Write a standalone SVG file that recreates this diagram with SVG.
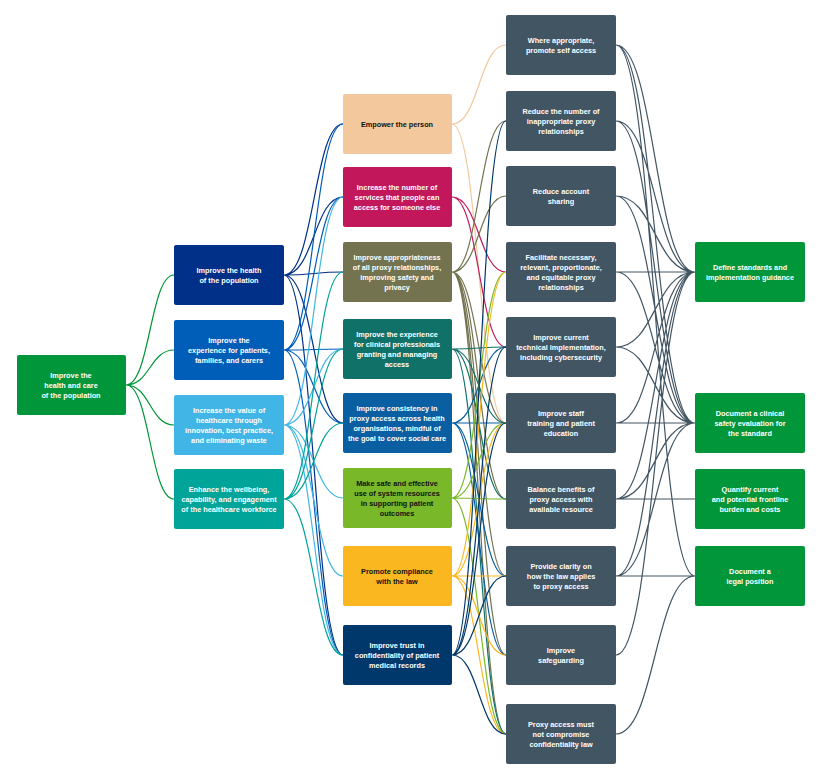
<svg xmlns="http://www.w3.org/2000/svg" width="831" height="772" viewBox="0 0 831 772">
<style>
text{font-family:"Liberation Sans",Arial,sans-serif;font-weight:bold;font-size:7.3px;fill:#fff;text-anchor:middle}
.dk{fill:#111}
rect{rx:2}
path{fill:none;stroke-width:1.2}
.g{stroke:#009639}.s{stroke:#425563}
.c1{stroke:#003087}.c2{stroke:#005eb8}.c3{stroke:#41b6e6}.c4{stroke:#00a499}
.p1{stroke:#f3c89d}.p2{stroke:#c2185b}.p3{stroke:#737350}.p4{stroke:#0f7168}.p5{stroke:#0a5fa3}.p6{stroke:#79b829}.p7{stroke:#fbb71f}.p8{stroke:#00386b}
</style>
<rect width="831" height="772" fill="#fff"/>
<g id="connectors">
<path class="g" d="M126 385C150 385 150 275 174 275M126 385C150 385 150 350 174 350M126 385C150 385 150 425 174 425M126 385C150 385 150 499 174 499"/>
<path class="c1" d="M284 275C314 275 314 124 343 124M284 275C314 275 314 197 343 197M284 275C314 275 314 272 343 272M284 275C314 275 314 423 343 423M284 275C314 275 314 655 343 655"/>
<path class="c2" d="M284 350C314 350 314 124 343 124M284 350C314 350 314 197 343 197M284 350C314 350 314 349 343 349M284 350C314 350 314 423 343 423M284 350C314 350 314 655 343 655"/>
<path class="c3" d="M284 425C314 425 314 197 343 197M284 425C314 425 314 349 343 349M284 425C314 425 314 498 343 498M284 425C314 425 314 576 343 576M284 425C314 425 314 655 343 655"/>
<path class="c4" d="M284 499C314 499 314 272 343 272M284 499C314 499 314 349 343 349M284 499C314 499 314 423 343 423M284 499C314 499 314 655 343 655"/>
<path class="p1" d="M452 124C479 124 479 45 506 45M452 124C479 124 479 423 506 423"/>
<path class="p2" d="M452 197C479 197 479 272 506 272M452 197C479 197 479 347 506 347"/>
<path class="p3" d="M452 272C479 272 479 121 506 121M452 272C479 272 479 196 506 196M452 272C479 272 479 423 506 423M452 272C479 272 479 499 506 499M452 272C479 272 479 576 506 576M452 272C479 272 479 655 506 655M452 272C479 272 479 734 506 734"/>
<path class="p4" d="M452 349C479 349 479 347 506 347M452 349C479 349 479 423 506 423M452 349C479 349 479 499 506 499M452 349C479 349 479 734 506 734"/>
<path class="p5" d="M452 423C479 423 479 347 506 347M452 423C479 423 479 423 506 423M452 423C479 423 479 576 506 576M452 423C479 423 479 655 506 655"/>
<path class="p6" d="M452 498C479 498 479 272 506 272M452 498C479 498 479 423 506 423M452 498C479 498 479 499 506 499M452 498C479 498 479 734 506 734"/>
<path class="p7" d="M452 576C479 576 479 272 506 272M452 576C479 576 479 423 506 423M452 576C479 576 479 576 506 576M452 576C479 576 479 655 506 655M452 576C479 576 479 734 506 734"/>
<path class="p8" d="M452 655C479 655 479 121 506 121M452 655C479 655 479 347 506 347M452 655C479 655 479 423 506 423M452 655C479 655 479 576 506 576M452 655C479 655 479 734 506 734"/>
<path class="s" d="M616 45C655 45 655 272 695 272M616 45C655 45 655 423 695 423M616 45C655 45 655 576 695 576M616 121C655 121 655 272 695 272M616 121C655 121 655 423 695 423M616 196C655 196 655 272 695 272M616 196C655 196 655 423 695 423M616 272L695 272M616 272C655 272 655 423 695 423M616 347C655 347 655 272 695 272M616 347C655 347 655 423 695 423M616 423L695 423M616 423C655 423 655 272 695 272M616 499L695 499M616 499C655 499 655 272 695 272M616 499C655 499 655 423 695 423M616 576L695 576M616 576C655 576 655 272 695 272M616 576C655 576 655 423 695 423M616 655C655 655 655 272 695 272M616 734C655 734 655 576 695 576"/>
</g>
<g id="n0"><rect x="17" y="355" width="109" height="60" fill="#009639"/><text x="71" y="378">Improve the</text><text x="71" y="388">health and care</text><text x="71" y="398">of the population</text></g>
<g id="n1a"><rect x="174" y="245" width="110" height="60" fill="#003087"/><text x="229" y="273">Improve the health</text><text x="229" y="283">of the population</text></g>
<g id="n1b"><rect x="174" y="320" width="110" height="60" fill="#005eb8"/><text x="229" y="343">Improve the</text><text x="229" y="353">experience for patients,</text><text x="229" y="363">families, and carers</text></g>
<g id="n1c"><rect x="174" y="395" width="110" height="60" fill="#41b6e6"/><text x="229" y="413">Increase the value of</text><text x="229" y="423">healthcare through</text><text x="229" y="433">innovation, best practice,</text><text x="229" y="443">and eliminating waste</text></g>
<g id="n1d"><rect x="174" y="469" width="110" height="60" fill="#00a499"/><text x="229" y="492">Enhance the wellbeing,</text><text x="229" y="502">capability, and engagement</text><text x="229" y="512">of the healthcare workforce</text></g>
<g id="n2a"><rect x="343" y="94" width="109" height="60" fill="#f3c89d"/><text class="dk" x="397" y="127">Empower the person</text></g>
<g id="n2b"><rect x="343" y="167" width="109" height="60" fill="#c2185b"/><text x="397" y="190">Increase the number of</text><text x="397" y="200">services that people can</text><text x="397" y="210">access for someone else</text></g>
<g id="n2c"><rect x="343" y="242" width="109" height="60" fill="#737350"/><text x="397" y="260">Improve appropriateness</text><text x="397" y="270">of all proxy relationships,</text><text x="397" y="280">improving safety and</text><text x="397" y="290">privacy</text></g>
<g id="n2d"><rect x="343" y="319" width="109" height="60" fill="#0f7168"/><text x="397" y="337">Improve the experience</text><text x="397" y="347">for clinical professionals</text><text x="397" y="357">granting and managing</text><text x="397" y="367">access</text></g>
<g id="n2e"><rect x="343" y="393" width="109" height="60" fill="#0a5fa3"/><text x="397" y="411">Improve consistency in</text><text x="397" y="421">proxy access across health</text><text x="397" y="431">organisations, mindful of</text><text x="397" y="441">the goal to cover social care</text></g>
<g id="n2f"><rect x="343" y="468" width="109" height="60" fill="#79b829"/><text class="dk" x="397" y="486">Make safe and effective</text><text class="dk" x="397" y="496">use of system resources</text><text class="dk" x="397" y="506">in supporting patient</text><text class="dk" x="397" y="516">outcomes</text></g>
<g id="n2g"><rect x="343" y="546" width="109" height="60" fill="#fbb71f"/><text class="dk" x="397" y="574">Promote compliance</text><text class="dk" x="397" y="584">with the law</text></g>
<g id="n2h"><rect x="343" y="625" width="109" height="60" fill="#00386b"/><text x="397" y="648">Improve trust in</text><text x="397" y="658">confidentiality of patient</text><text x="397" y="668">medical records</text></g>
<g id="n3a"><rect x="506" y="15" width="110" height="60" fill="#425563"/><text x="561" y="43">Where appropriate,</text><text x="561" y="53">promote self access</text></g>
<g id="n3b"><rect x="506" y="91" width="110" height="60" fill="#425563"/><text x="561" y="114">Reduce the number of</text><text x="561" y="124">inappropriate proxy</text><text x="561" y="134">relationships</text></g>
<g id="n3c"><rect x="506" y="166" width="110" height="60" fill="#425563"/><text x="561" y="194">Reduce account</text><text x="561" y="204">sharing</text></g>
<g id="n3d"><rect x="506" y="242" width="110" height="60" fill="#425563"/><text x="561" y="260">Facilitate necessary,</text><text x="561" y="270">relevant, proportionate,</text><text x="561" y="280">and equitable proxy</text><text x="561" y="290">relationships</text></g>
<g id="n3e"><rect x="506" y="317" width="110" height="60" fill="#425563"/><text x="561" y="340">Improve current</text><text x="561" y="350">technical implementation,</text><text x="561" y="360">including cybersecurity</text></g>
<g id="n3f"><rect x="506" y="393" width="110" height="60" fill="#425563"/><text x="561" y="416">Improve staff</text><text x="561" y="426">training and patient</text><text x="561" y="436">education</text></g>
<g id="n3g"><rect x="506" y="469" width="110" height="60" fill="#425563"/><text x="561" y="492">Balance benefits of</text><text x="561" y="502">proxy access with</text><text x="561" y="512">available resource</text></g>
<g id="n3h"><rect x="506" y="546" width="110" height="60" fill="#425563"/><text x="561" y="569">Provide clarity on</text><text x="561" y="579">how the law applies</text><text x="561" y="589">to proxy access</text></g>
<g id="n3i"><rect x="506" y="625" width="110" height="60" fill="#425563"/><text x="561" y="653">Improve</text><text x="561" y="663">safeguarding</text></g>
<g id="n3j"><rect x="506" y="704" width="110" height="60" fill="#425563"/><text x="561" y="727">Proxy access must</text><text x="561" y="737">not compromise</text><text x="561" y="747">confidentiality law</text></g>
<g id="n4a"><rect x="695" y="242" width="110" height="60" fill="#009639"/><text x="750" y="270">Define standards and</text><text x="750" y="280">implementation guidance</text></g>
<g id="n4b"><rect x="695" y="393" width="110" height="60" fill="#009639"/><text x="750" y="416">Document a clinical</text><text x="750" y="426">safety evaluation for</text><text x="750" y="436">the standard</text></g>
<g id="n4c"><rect x="695" y="469" width="110" height="60" fill="#009639"/><text x="750" y="492">Quantify current</text><text x="750" y="502">and potential frontline</text><text x="750" y="512">burden and costs</text></g>
<g id="n4d"><rect x="695" y="546" width="110" height="60" fill="#009639"/><text x="750" y="574">Document a</text><text x="750" y="584">legal position</text></g>
</svg>
